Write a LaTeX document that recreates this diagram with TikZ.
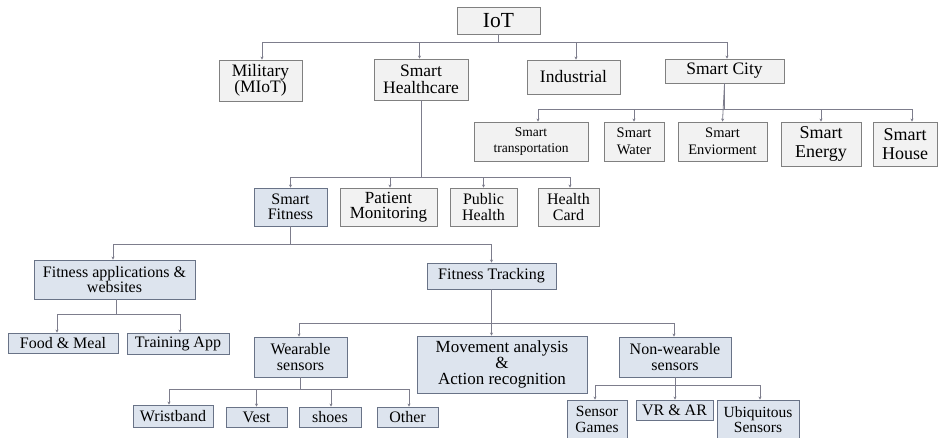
\documentclass[tikz,border=0pt]{standalone}
\usepackage{fontspec}
\setmainfont{Liberation Serif}
\usetikzlibrary{arrows.meta}
\definecolor{gfill}{RGB}{242,242,242}
\definecolor{gline}{RGB}{128,128,128}
\definecolor{bfill}{RGB}{221,228,238}
\definecolor{bline}{RGB}{105,115,135}
\definecolor{cline}{RGB}{125,125,140}
\newcommand{\fs}[2]{\fontsize{#1}{#2}\selectfont}
\tikzset{
  box/.style={draw, line width=0.9pt, inner sep=0pt, align=center, text=black},
  graybox/.style={box, fill=gfill, draw=gline},
  bluebox/.style={box, fill=bfill, draw=bline},
  conn/.style={draw=cline, line width=0.8pt, -{Stealth[length=3pt,width=3pt]}},
}
\newcommand{\bx}[8]{% style, font, name, x1, x2, y1, y2, text
  \node[#1, font={#2}, minimum width=#5pt-#4pt, minimum height=#7pt-#6pt] (#3) at ({(#4+#5)/2},{(#6+#7)/2}) {#8};}
\begin{document}
\begin{tikzpicture}[x=1pt,y=-1pt]
\useasboundingbox (0,0) rectangle (939,438);
\clip (0,0) rectangle (939,438);
\fill[white] (0,0) rectangle (939,438);
% bus levels
\coordinate (b1) at (0,42);
\coordinate (b2) at (0,109);
\coordinate (b3) at (0,177);
\coordinate (b4) at (0,244);
\coordinate (b5) at (0,314);
\coordinate (b6) at (0,323);
\coordinate (b7) at (0,389);
\coordinate (b8) at (0,385);
% level 0
\bx{graybox}{\fs{21.5}{24}}{iot}{457}{540}{7}{34}{IoT}
% level 1
\bx{graybox}{\fs{17.5}{16.5}}{mil}{219}{302}{60}{101}{Military\\(MIoT)}
\bx{graybox}{\fs{17.5}{16.5}}{sh}{374}{468}{59}{100}{Smart\\Healthcare}
\bx{graybox}{\fs{17.5}{16.5}}{ind}{527}{620}{60}{94}{Industrial}
\bx{graybox}{\fs{17.5}{16.5}}{sc}{665}{784}{59}{83}{Smart City}
% smart city children
\bx{graybox}{\fs{13.5}{16.5}}{st}{474}{588}{122}{161}{Smart\\transportation}
\bx{graybox}{\fs{14.5}{16.5}}{sw}{604}{664}{122}{161}{Smart\\Water}
\bx{graybox}{\fs{14.5}{16.5}}{se}{678}{767}{122}{161}{Smart\\Enviorment}
\bx{graybox}{\fs{18}{19}}{sen}{781}{861}{122}{166}{Smart\\Energy}
\bx{graybox}{\fs{18}{19}}{sho}{873}{937}{122}{166}{Smart\\House}
% healthcare children
\bx{bluebox}{\fs{16}{15.5}}{sf}{254}{327}{188}{226}{Smart\\Fitness}
\bx{graybox}{\fs{17}{15.5}}{pm}{340}{437}{188}{226}{Patient\\Monitoring}
\bx{graybox}{\fs{16}{15.5}}{ph}{450}{517}{188}{226}{Public\\Health}
\bx{graybox}{\fs{16}{15.5}}{hc}{538}{599}{188}{226}{Health\\Card}
% fitness children
\bx{bluebox}{\fs{16}{15.5}}{fa}{34}{195}{260}{299}{Fitness applications \&\\websites}
\bx{bluebox}{\fs{16}{16}}{ft}{427}{556}{263}{289}{Fitness Tracking}
\bx{bluebox}{\fs{16}{16}}{fm}{8}{118}{333}{353}{Food \& Meal}
\bx{bluebox}{\fs{16}{16}}{ta}{127}{229}{333}{354}{Training App}
\bx{bluebox}{\fs{16}{16}}{ws}{254}{347}{337}{377}{Wearable\\sensors}
\bx{bluebox}{\fs{17}{16.3}}{ma}{417}{587}{336}{393}{Movement analysis\\\&\\Action recognition}
\bx{bluebox}{\fs{16}{16}}{nw}{619}{731}{337}{377}{Non-wearable\\sensors}
\bx{bluebox}{\fs{16}{16}}{wb}{133}{213}{405}{427}{Wristband}
\bx{bluebox}{\fs{16}{16}}{ve}{226}{287}{407}{427}{Vest}
\bx{bluebox}{\fs{16}{16}}{sh2}{299}{361}{407}{427}{shoes}
\bx{bluebox}{\fs{16}{16}}{ot}{377}{438}{407}{427}{Other}
\bx{bluebox}{\fs{15.5}{15.5}}{sg}{567}{627}{400}{439}{Sensor\\Games}
\bx{bluebox}{\fs{16}{16}}{vr}{636}{713}{400}{420}{VR \& AR}
\bx{bluebox}{\fs{15.5}{15.5}}{ub}{717}{799}{400}{439}{Ubiquitous\\Sensors}
% connectors: IoT
\draw[conn] (iot.south) |- ([xshift=1.5pt]mil.north |- b1) -- ([xshift=1.5pt]mil.north);
\draw[conn] (iot.south) |- ([xshift=-1.5pt]sh.north |- b1) -- ([xshift=-1.5pt]sh.north);
\draw[conn] (iot.south) |- ([xshift=2.5pt]ind.north |- b1) -- ([xshift=2.5pt]ind.north);
\draw[conn] (iot.south) |- ([xshift=2.5pt]sc.north |- b1) -- ([xshift=2.5pt]sc.north);
% Smart City
\draw[conn] (sc.south) |- ([xshift=7pt]st.north |- b2) -- ([xshift=7pt]st.north);
\draw[conn] (sc.south) |- (sw.north |- b2) -- (sw.north);
\draw[conn] (sc.south) -- (se.north);
\draw[conn] (sc.south) |- (sen.north |- b2) -- (sen.north);
\draw[conn] (sc.south) |- ([xshift=7pt]sho.north |- b2) -- ([xshift=7pt]sho.north);
% Smart Healthcare
\draw[conn] (sh.south) |- (sf.north |- b3) -- (sf.north);
\draw[conn] (sh.south) |- ([xshift=1.5pt]pm.north |- b3) -- ([xshift=1.5pt]pm.north);
\draw[conn] (sh.south) |- (ph.north |- b3) -- (ph.north);
\draw[conn] (sh.south) |- ([xshift=1.5pt]hc.north |- b3) -- ([xshift=1.5pt]hc.north);
% Smart Fitness
\draw[conn] (sf.south) |- ([xshift=-1.5pt]fa.north |- b4) -- ([xshift=-1.5pt]fa.north);
\draw[conn] (sf.south) |- (ft.north |- b4) -- (ft.north);
% Fitness applications
\draw[conn] ([xshift=1.5pt]fa.south) |- ([xshift=-6pt]fm.north |- b5) -- ([xshift=-6pt]fm.north);
\draw[conn] ([xshift=1.5pt]fa.south) |- ([xshift=2pt]ta.north |- b5) -- ([xshift=2pt]ta.north);
% Fitness Tracking
\draw[conn] (ft.south) |- ([xshift=-1.5pt]ws.north |- b6) -- ([xshift=-1.5pt]ws.north);
\draw[conn] (ft.south) -- (ft.south |- ma.north);
\draw[conn] (ft.south) |- ([xshift=-1pt]nw.north |- b6) -- ([xshift=-1pt]nw.north);
% Wearable sensors
\draw[conn] (ws.south) |- ([xshift=-4pt]wb.north |- b7) -- ([xshift=-4pt]wb.north);
\draw[conn] (ws.south) |- (ve.north |- b7) -- (ve.north);
\draw[conn] (ws.south) |- ([xshift=1pt]sh2.north |- b7) -- ([xshift=1pt]sh2.north);
\draw[conn] (ws.south) |- ([xshift=1.5pt]ot.north |- b7) -- ([xshift=1.5pt]ot.north);
% Non-wearable sensors
\draw[conn] (nw.south) |- ([xshift=-2pt]sg.north |- b8) -- ([xshift=-2pt]sg.north);
\draw[conn] (nw.south) -- (nw.south |- vr.north);
\draw[conn] (nw.south) |- ([xshift=2pt]ub.north |- b8) -- ([xshift=2pt]ub.north);
\end{tikzpicture}
\end{document}
